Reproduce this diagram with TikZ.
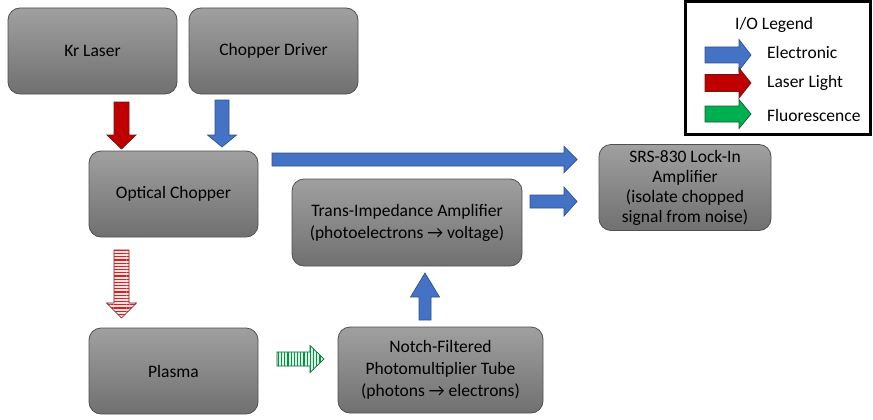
\documentclass[tikz,border=0pt]{standalone}
\usepackage{fontspec}
\setmainfont{Carlito}
\usetikzlibrary{patterns.meta}

\definecolor{boxtop}{RGB}{160,160,160}
\definecolor{boxbot}{RGB}{112,112,112}
\definecolor{boxline}{RGB}{80,80,80}
\definecolor{elblue}{RGB}{68,114,196}
\definecolor{elblueline}{RGB}{47,82,143}
\definecolor{lasred}{RGB}{192,0,0}
\definecolor{lasredline}{RGB}{110,20,20}
\definecolor{flgreen}{RGB}{0,176,80}
\definecolor{flgreenline}{RGB}{20,90,50}

% right-pointing block arrow: style, x start, x head base, x tip, y centre, half shaft, half head
\newcommand\blockR[7]{%
  \draw[#1] ({#2},{#5-#6}) -- ({#3},{#5-#6}) -- ({#3},{#5-#7}) -- ({#4},{#5})
    -- ({#3},{#5+#7}) -- ({#3},{#5+#6}) -- ({#2},{#5+#6}) -- cycle;}
% vertical block arrow: style, x centre, y start, y head base, y tip, half shaft, half head
\newcommand\blockV[7]{%
  \draw[#1] ({#2-#6},{#3}) -- ({#2-#6},{#4}) -- ({#2-#7},{#4}) -- ({#2},{#5})
    -- ({#2+#7},{#4}) -- ({#2+#6},{#4}) -- ({#2+#6},{#3}) -- cycle;}

\tikzset{
  block/.style={draw=boxline, line width=0.8pt, rounded corners=12pt,
    top color=boxtop, bottom color=boxbot, font=\fontsize{17.5}{22}\selectfont,
    align=center, inner sep=0pt},
  elec/.style={fill=elblue, draw=elblueline, line width=0.7pt},
  laser/.style={fill=lasred, draw=lasredline, line width=0.7pt},
  fluor/.style={fill=flgreen, draw=flgreenline, line width=0.7pt},
  laserstripe/.style={fill=red!12, postaction={pattern={Lines[distance=3.2pt, line width=1.3pt, angle=0]}, pattern color=lasred!85}, draw=lasredline, line width=0.7pt},
  fluorstripe/.style={fill=flgreen!12, postaction={pattern={Lines[distance=3.2pt, line width=1.3pt, angle=90]}, pattern color=flgreen!85!black}, draw=flgreenline, line width=0.7pt},
  legtext/.style={font=\fontsize{17.5}{22}\selectfont, anchor=west, inner sep=0pt},
}

\begin{document}
\begin{tikzpicture}[x=1pt, y=-1pt]
\useasboundingbox (0,0) rectangle (873,420);

% processing blocks
\node[block, minimum width=169pt, minimum height=86pt] (laser) at (92.5,51) {Kr Laser};
\node[block, minimum width=169pt, minimum height=86pt] (driver) at (273.5,51) {Chopper Driver};
\node[block, minimum width=169pt, minimum height=86pt] (chopper) at (173.5,194) {Optical Chopper};
\node[block, minimum width=169pt, minimum height=86pt] (plasma) at (173.5,371) {Plasma};
\node[block, minimum width=230pt, minimum height=87pt] (tia) at (407,222.5)
  {Trans-Impedance Amplifier\\(photoelectrons \symbol{"2192} voltage)};
\node[block, minimum width=205pt, minimum height=86pt] (pmt) at (440.5,370)
  {Notch-Filtered\\Photomultiplier Tube\\(photons \symbol{"2192} electrons)};
\node[block, minimum width=172pt, minimum height=86pt, font=\fontsize{17.5}{20}\selectfont] (lockin) at (685,187.5)
  {SRS-830 Lock-In\\Amplifier\\(isolate chopped\\signal from noise)};

% flows between blocks
\blockV{laser}{121.5}{102}{135}{149}{7.5}{14.5}
\blockV{elec}{222}{100}{135}{147}{7}{14.5}
\blockR{elec}{272}{564}{577}{159.5}{6.5}{13}
\blockR{elec}{530}{564}{577}{201.5}{6.5}{14.5}
\blockV{laserstripe}{121.5}{250}{303}{318}{7.5}{15}
\blockR{fluorstripe}{277}{310}{324}{359}{7}{13.5}
\blockV{elec}{425}{320}{297}{273}{6}{14.5}

% legend
\draw[line width=3pt] (685,2) rectangle (870,134);
\node[legtext] (legtitle) at (735,25) {I/O Legend};
\blockR{elec}{705}{739}{751}{55}{8}{15.5}
\blockR{laser}{705}{739}{751}{83}{8.5}{15}
\blockR{fluor}{705}{739}{751}{114}{8}{14.5}
\node[legtext] (legel) at (767,52) {Electronic};
\node[legtext] (legla) at (767,83) {Laser Light};
\node[legtext] (legfl) at (767,115) {Fluorescence};
\end{tikzpicture}
\end{document}
